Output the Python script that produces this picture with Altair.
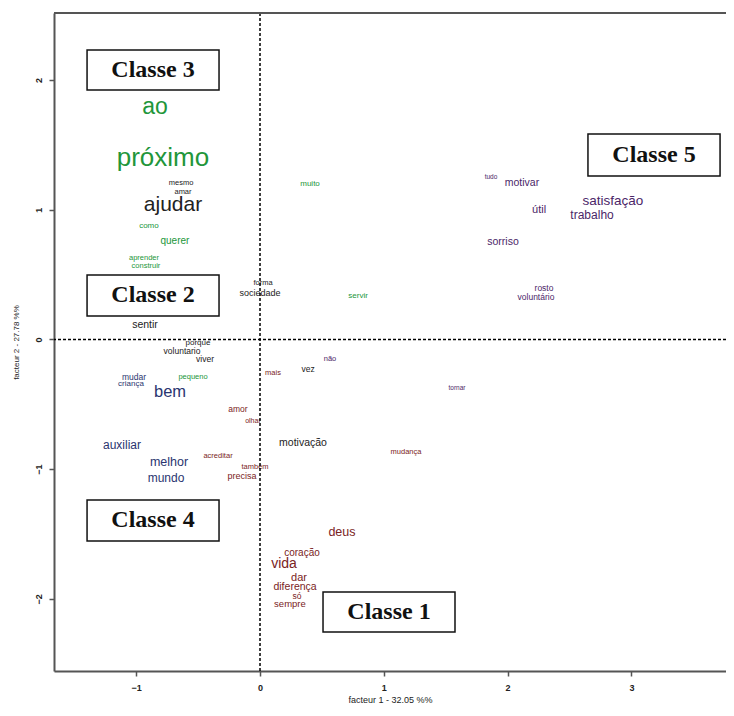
import altair as alt
import pandas as pd

# ---- word coordinates (factor 1, factor 2), class and font size ----
words = ["ao", "próximo", "mesmo", "amar", "ajudar", "como", "querer", "aprender", "construir",
         "muito", "forma", "sociedade", "servir", "sentir", "porque", "voluntario", "viver",
         "mudar", "criança", "pequeno", "bem", "mais", "vez", "não", "tornar", "amor", "olhar",
         "auxiliar", "motivação", "mudança", "acreditar", "melhor", "também", "mundo", "precisa",
         "deus", "coração", "vida", "dar", "diferença", "só", "sempre",
         "tudo", "motivar", "útil", "satisfação", "trabalho", "sorriso", "rosto", "voluntário"]
f1 = [-0.848, -0.784, -0.638, -0.622, -0.703, -0.897, -0.687, -0.937, -0.921,
      0.404, 0.024, 0.000, 0.792, -0.929, -0.501, -0.630, -0.444,
      -1.018, -1.042, -0.541, -0.727, 0.105, 0.388, 0.565, 1.591, -0.178, -0.057,
      -1.115, 0.347, 1.179, -0.339, -0.735, -0.040, -0.759, -0.145,
      0.662, 0.339, 0.194, 0.315, 0.283, 0.299, 0.242,
      1.866, 2.116, 2.254, 2.851, 2.682, 1.963, 2.294, 2.229]
f2 = [1.792, 1.399, 1.203, 1.133, 1.040, 0.875, 0.759, 0.628, 0.567,
      1.199, 0.435, 0.358, 0.335, 0.112, -0.027, -0.089, -0.150,
      -0.293, -0.347, -0.289, -0.405, -0.258, -0.227, -0.150, -0.373, -0.536, -0.628,
      -0.813, -0.798, -0.867, -0.898, -0.944, -0.983, -1.067, -1.052,
      -1.484, -1.645, -1.731, -1.838, -1.907, -1.980, -2.036,
      1.252, 1.206, 0.998, 1.067, 0.960, 0.751, 0.397, 0.328]
classes = ["Classe 3", "Classe 3", "Classe 2", "Classe 2", "Classe 2", "Classe 3", "Classe 3",
           "Classe 3", "Classe 3",
           "Classe 3", "Classe 2", "Classe 2", "Classe 3", "Classe 2", "Classe 2", "Classe 2",
           "Classe 2",
           "Classe 4", "Classe 4", "Classe 3", "Classe 4", "Classe 1", "Classe 2", "Classe 5",
           "Classe 5", "Classe 1", "Classe 1",
           "Classe 4", "Classe 2", "Classe 1", "Classe 1", "Classe 4", "Classe 1", "Classe 4",
           "Classe 1",
           "Classe 1", "Classe 1", "Classe 1", "Classe 1", "Classe 1", "Classe 1", "Classe 1",
           "Classe 5", "Classe 5", "Classe 5", "Classe 5", "Classe 5", "Classe 5", "Classe 5",
           "Classe 5"]
sizes = [23, 26, 7.5, 7.5, 21, 8, 10, 7.5, 7.5,
         8, 7.5, 9, 8, 10.5, 8, 8.5, 8.5,
         8.5, 8, 7.5, 16.5, 7.5, 8.5, 7.5, 6.5, 8.5, 7,
         12, 10.5, 7.5, 7.5, 12.5, 7.5, 12, 9,
         12.5, 10, 14, 11, 10.5, 8.5, 9.5,
         6.5, 10.5, 11, 13.5, 12, 10.5, 8.5, 8.5]

class_ids = ["Classe 1", "Classe 2", "Classe 3", "Classe 4", "Classe 5"]
class_colors = ["#7a2323", "#222222", "#22963a", "#2a3570", "#4b2668"]

# ---- class label boxes ----
box_labels = ["Classe 3", "Classe 2", "Classe 4", "Classe 5", "Classe 1"]
box_x1 = [-1.397, -1.397, -1.397, 2.649, 0.509]
box_x2 = [-0.331, -0.331, -0.331, 3.716, 1.575]
box_y1 = [2.231, 0.497, -1.237, 1.584, -1.946]
box_y2 = [1.923, 0.181, -1.553, 1.260, -2.254]

x_ticks = [-1, 0, 1, 2, 3]
y_ticks = [-2, -1, 0, 1, 2]
x_domain = [-1.664, 3.764]
y_domain = [-2.555, 2.516]

W, H = 672, 658

df = pd.DataFrame({"word": words, "f1": f1, "f2": f2, "cls": classes, "size": sizes})
boxes = pd.DataFrame({"label": box_labels, "x1": box_x1, "x2": box_x2, "y1": box_y1, "y2": box_y2})
boxes["xc"] = (boxes["x1"] + boxes["x2"]) / 2
boxes["yc"] = (boxes["y1"] + boxes["y2"]) / 2

xs = alt.Scale(domain=x_domain, nice=False, zero=False)
ys = alt.Scale(domain=y_domain, nice=False, zero=False)

xaxis = alt.Axis(values=x_ticks, format="d", grid=False, domainColor="#555555", domainWidth=2,
                 tickColor="#555555", tickSize=5, tickWidth=1.5, labelFontSize=9,
                 labelFontWeight="bold", labelColor="#222222", labelPadding=7,
                 title="facteur 1 - 32.05 %%", titleFontSize=9, titleFontWeight="normal",
                 titleColor="#222222", titlePadding=3, labelFont="Liberation Sans",
                 titleFont="Liberation Sans")
yaxis = alt.Axis(values=y_ticks, format="d", grid=False, domainColor="#555555", domainWidth=2,
                 tickColor="#555555", tickSize=5, tickWidth=1.5, labelFontSize=9,
                 labelFontWeight="bold", labelColor="#222222", labelPadding=6,
                 labelAngle=270, labelAlign="center", labelBaseline="bottom",
                 title="facteur 2 - 27.78 %%", titleFontSize=8, titleFontWeight="normal",
                 titleColor="#222222", titlePadding=14, labelFont="Liberation Sans",
                 titleFont="Liberation Sans")

text_layer = alt.Chart(df).mark_text(font="Liberation Sans").encode(
    x=alt.X("f1:Q", scale=xs, axis=xaxis),
    y=alt.Y("f2:Q", scale=ys, axis=yaxis),
    text="word:N",
    size=alt.Size("size:Q", scale=None),
    color=alt.Color("cls:N", scale=alt.Scale(domain=class_ids, range=class_colors), legend=None),
)

vline = alt.Chart(pd.DataFrame({"v": [0]})).mark_rule(
    color="black", strokeDash=[3, 2], strokeWidth=1.5).encode(x=alt.X("v:Q", scale=xs))
hline = alt.Chart(pd.DataFrame({"v": [0]})).mark_rule(
    color="black", strokeDash=[3, 2], strokeWidth=1.5).encode(y=alt.Y("v:Q", scale=ys))

top_line = alt.Chart(pd.DataFrame({"v": [0]})).mark_rule(
    color="#555555", strokeWidth=2).encode(
    x=alt.value(0), x2=alt.value(W), y=alt.value(0))

box_rect = alt.Chart(boxes).mark_rect(fill="white", stroke="#111111", strokeWidth=1.5).encode(
    x=alt.X("x1:Q", scale=xs), x2="x2:Q",
    y=alt.Y("y1:Q", scale=ys), y2="y2:Q")
box_text = alt.Chart(boxes).mark_text(font="Liberation Serif", fontWeight="bold",
                                      fontSize=24, color="#111111").encode(
    x=alt.X("xc:Q", scale=xs), y=alt.Y("yc:Q", scale=ys), text="label:N")

chart = alt.layer(text_layer, vline, hline, top_line, box_rect, box_text).properties(
    width=W, height=H,
    autosize=alt.AutoSizeParams(type="none"),
    padding={"left": 46, "top": 5, "right": 0, "bottom": 35},
).configure_view(stroke=None)

chart.save("out.html", embed_options={"renderer": "svg", "actions": False})
